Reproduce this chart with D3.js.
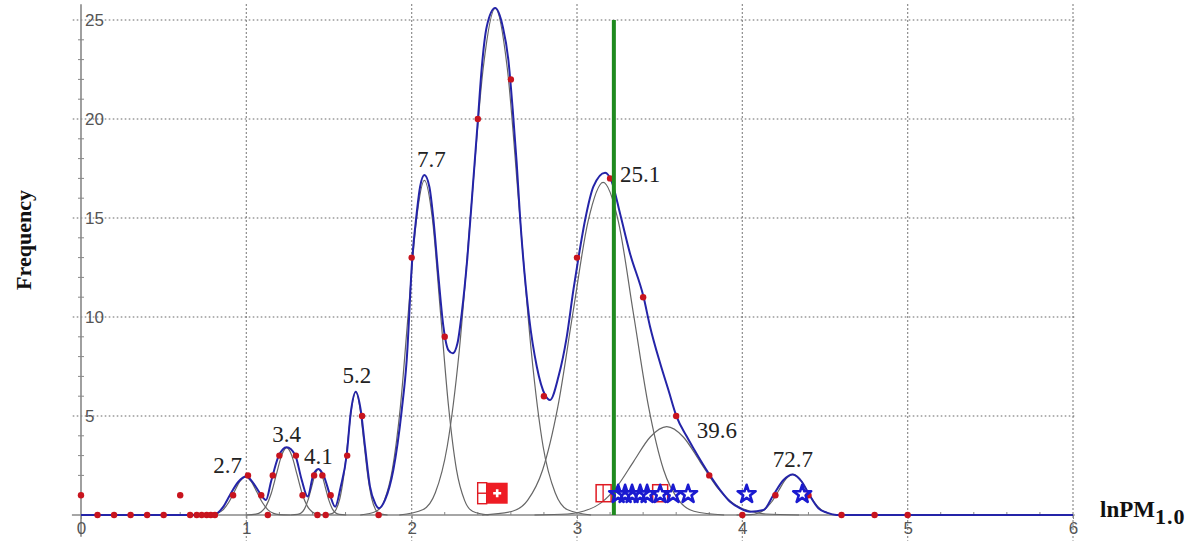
<!DOCTYPE html>
<html><head><meta charset="utf-8">
<script src="https://cdn.jsdelivr.net/npm/d3@7"></script>
<style>body{margin:0;background:#fff}svg{display:block}</style>
</head><body><svg id="c" width="1200" height="541"></svg>
<script>
// ---------------- DATA ----------------
const xTicks = [0, 1, 2, 3, 4, 5, 6];
const yTicks = [5, 10, 15, 20, 25];

// observed frequencies (red dots)
const obsX = [0,0.1,0.2,0.3,0.4,0.5,0.6,0.66,0.7,0.73,0.76,0.785,0.81,0.92,1.01,1.09,1.13,1.16,1.2,1.3,1.34,1.41,1.43,1.46,1.48,1.51,1.61,1.7,1.8,2.0,2.2,2.4,2.6,2.8,3.0,3.2,3.4,3.6,3.8,4.0,4.2,4.4,4.6,4.8,5.0];
const obsY = [1,0,0,0,0,0,1,0,0,0,0,0,0,1,2,1,0,2,3,3,1,2,0,2,0,1,3,5,0,13,9,20,22,6,13,17,11,5,2,0,1,1,0,0,0];

// fitted mixture curve (blue)
const fitX = [0,0.78,0.81,0.861,0.901,0.952,1.0,1.043,1.083,1.119,1.15,1.194,1.244,1.295,1.335,1.371,1.405,1.436,1.47,1.506,1.537,1.571,1.607,1.631,1.662,1.692,1.718,1.748,1.779,1.803,1.839,1.889,1.94,1.97,2.004,2.027,2.051,2.077,2.107,2.131,2.162,2.192,2.222,2.249,2.277,2.303,2.337,2.37,2.4,2.424,2.454,2.505,2.551,2.585,2.611,2.635,2.656,2.71,2.757,2.807,2.837,2.888,2.938,2.978,3.009,3.049,3.099,3.17,3.21,3.261,3.321,3.402,3.442,3.503,3.553,3.6,3.664,3.704,3.805,3.866,3.926,3.987,4.047,4.128,4.188,4.249,4.305,4.36,4.406,4.46,4.511,4.57,6.0];
const fitY = [0,0,0.03,0.42,1.01,1.68,1.94,1.6,1.09,0.76,1.7,2.95,3.42,3.03,1.77,0.93,2.02,2.32,1.94,1.01,0.42,1.43,3.03,5.13,6.23,5.3,3.45,1.43,0.59,0.34,0.76,2.27,5.3,7.83,13.0,14.98,16.58,17.17,16.58,14.98,12.04,9.51,8.33,8.17,8.67,10.2,13.0,16.6,19.9,22.6,24.66,25.6,24.66,22.98,20.5,17.8,15.0,10.0,7.49,6.06,5.81,6.99,9.0,11.36,13.0,14.9,16.58,17.29,16.84,15.2,13.2,11.03,9.51,7.66,6.31,5.02,3.96,3.37,1.99,1.26,0.67,0.34,0.17,0.25,1.01,1.77,2.05,1.68,1.01,0.34,0.12,0,0];

// individual components (grey)
const compX = [
  [0.723,0.791,0.825,0.859,0.893,0.927,0.961,0.995,1.029,1.063,1.097,1.131,1.165,1.199,1.267],
  [0.996,1.058,1.089,1.12,1.151,1.182,1.213,1.244,1.275,1.306,1.337,1.368,1.399,1.43,1.492],
  [1.268,1.31,1.331,1.352,1.373,1.394,1.415,1.436,1.457,1.478,1.499,1.52,1.541,1.562,1.604],
  [1.47,1.518,1.542,1.566,1.59,1.614,1.638,1.662,1.686,1.71,1.734,1.758,1.782,1.806,1.854],
  [1.689,1.786,1.835,1.883,1.932,1.98,2.029,2.077,2.126,2.174,2.223,2.271,2.32,2.368,2.465],
  [1.925,2.07,2.143,2.215,2.288,2.36,2.433,2.505,2.578,2.65,2.723,2.795,2.868,2.94,3.085],
  [2.426,2.609,2.701,2.792,2.884,2.975,3.067,3.158,3.25,3.341,3.433,3.524,3.616,3.707,3.89],
  [2.743,2.943,3.043,3.143,3.243,3.343,3.443,3.543,3.643,3.743,3.843,3.943,4.043,4.143,4.343],
  [3.965,4.05,4.093,4.135,4.178,4.22,4.263,4.305,4.348,4.39,4.433,4.475,4.518,4.56,4.645]
];
const compY = [
  [0,0.02,0.08,0.26,0.63,1.17,1.7,1.93,1.7,1.17,0.63,0.26,0.08,0.02,0],
  [0,0.04,0.15,0.46,1.1,2.06,3.0,3.4,3.0,2.06,1.1,0.46,0.15,0.04,0],
  [0,0.03,0.1,0.31,0.75,1.39,2.03,2.3,2.03,1.39,0.75,0.31,0.1,0.03,0],
  [0,0.07,0.27,0.84,2.01,3.76,5.47,6.2,5.47,3.76,2.01,0.84,0.27,0.07,0],
  [0,0.19,0.74,2.29,5.49,10.25,14.91,16.9,14.91,10.25,5.49,2.29,0.74,0.19,0],
  [0,0.28,1.12,3.46,8.31,15.53,22.59,25.6,22.59,15.53,8.31,3.46,1.12,0.28,0],
  [0,0.19,0.74,2.27,5.46,10.19,14.83,16.8,14.83,10.19,5.46,2.27,0.74,0.19,0],
  [0,0.05,0.2,0.6,1.45,2.71,3.94,4.46,3.94,2.71,1.45,0.6,0.2,0.05,0],
  [0,0.02,0.09,0.28,0.67,1.24,1.81,2.05,1.81,1.24,0.67,0.28,0.09,0.02,0]
];
const peakLabels = ["2.7","3.4","4.1","5.2","7.7","25.1","39.6","72.7"];
const peakLabelComp = [0,1,2,3,4,6,7,8];

const threshold = 3.223;           // green line (ln 25.1)
const markerLevel = 1.1;
const splitPlusX = [2.49];
const squareX = [3.161, 3.503];
const starX = [3.249,3.291,3.333,3.382,3.424,3.503,3.581,3.672,4.026,4.362];

// ---------------- LAYOUT ----------------
const labelDx = [-18, 0, 0, 1, 7, 37, 50, 0];
const labelDy = [-4, -6, -5, -9, -13, 0, 11, -7];

const x = d3.scaleLinear().domain([0, 6]).range([81, 1073]);
const y = d3.scaleLinear().domain([0, 25]).range([515, 20]);
const svg = d3.select('#c');

// grid
svg.append('g').selectAll('line').data(yTicks).join('line')
  .attr('x1', x(-0.05)).attr('x2', x(6.01))
  .attr('y1', d => y(d)).attr('y2', d => y(d))
  .attr('stroke', '#666').attr('stroke-width', 1.2).attr('stroke-dasharray', '1.6,2.4');
svg.append('g').selectAll('line').data(xTicks.slice(1)).join('line')
  .attr('x1', d => x(d)).attr('x2', d => x(d))
  .attr('y1', y(25.8)).attr('y2', y(-1.3))
  .attr('stroke', '#666').attr('stroke-width', 1.2).attr('stroke-dasharray', '1.6,2.4');

// axes lines
svg.append('line').attr('x1', x(-0.055)).attr('x2', x(6.01)).attr('y1', y(0)).attr('y2', y(0))
  .attr('stroke', '#888').attr('stroke-width', 1.6);
svg.append('line').attr('x1', x(0)).attr('x2', x(0)).attr('y1', y(25.8)).attr('y2', y(-1.1))
  .attr('stroke', '#888').attr('stroke-width', 1.6);

// minor ticks
const yMinor = d3.range(1, 26).filter(v => v % 5 !== 0);
svg.append('g').selectAll('line').data(yMinor).join('line')
  .attr('x1', x(0) - 3).attr('x2', x(0) + 3).attr('y1', d => y(d)).attr('y2', d => y(d))
  .attr('stroke', '#888').attr('stroke-width', 1);
const xMinor = d3.range(0.2, 6, 0.2).filter(v => Math.abs(v - Math.round(v)) > 0.01);
svg.append('g').selectAll('line').data(xMinor).join('line')
  .attr('x1', d => x(d)).attr('x2', d => x(d)).attr('y1', y(0)).attr('y2', y(0) - 3)
  .attr('stroke', '#888').attr('stroke-width', 1);

// tick labels via d3 axes
const xa = svg.append('g').attr('transform', `translate(0,${y(0)})`)
  .call(d3.axisBottom(x).tickValues(xTicks).tickSize(4).tickPadding(3).tickFormat(d3.format('d')));
xa.select('.domain').remove();
xa.selectAll('line').attr('stroke', '#888');
xa.selectAll('text').attr('fill', '#555').style('font', '17px "Liberation Sans", Arial, sans-serif');

const ya = svg.append('g').attr('transform', `translate(${x(0)},0)`)
  .call(d3.axisRight(y).tickValues(yTicks).tickSize(0).tickPadding(4));
ya.select('.domain').remove();
ya.selectAll('text').attr('fill', '#555').style('font', '17px "Liberation Sans", Arial, sans-serif');

// components
const line = d3.line().x(d => x(d[0])).y(d => y(d[1])).curve(d3.curveMonotoneX);
svg.append('g').selectAll('path').data(compX.map((xs, i) => xs.map((v, j) => [v, compY[i][j]])))
  .join('path').attr('d', line).attr('fill', 'none').attr('stroke', '#666').attr('stroke-width', 1.2);

// fitted curve
svg.append('path').datum(fitX.map((v, i) => [v, fitY[i]])).attr('d', line)
  .attr('fill', 'none').attr('stroke', '#2424a8').attr('stroke-width', 2);

// observed dots
svg.append('g').selectAll('circle').data(obsX.map((v, i) => [v, obsY[i]])).join('circle')
  .attr('cx', d => x(d[0])).attr('cy', d => y(d[1])).attr('r', 3.2).attr('fill', '#c8141e');

// threshold
svg.append('line').attr('x1', x(threshold)).attr('x2', x(threshold)).attr('y1', y(25)).attr('y2', y(0))
  .attr('stroke', '#1f8a1f').attr('stroke-width', 4);

// markers
const my = y(markerLevel);
const sp = svg.append('g').selectAll('g').data(splitPlusX).join('g')
  .attr('transform', d => `translate(${x(d)},${my})`);
sp.append('rect').attr('x', -15).attr('y', -10.5).attr('width', 9).attr('height', 21)
  .attr('fill', '#fff').attr('stroke', '#e01a22').attr('stroke-width', 1.4);
sp.append('line').attr('x1', -15).attr('x2', -6).attr('y1', 0).attr('y2', 0).attr('stroke', '#e01a22').attr('stroke-width', 1.4);
sp.append('rect').attr('x', -6).attr('y', -10.5).attr('width', 21).attr('height', 21).attr('fill', '#ee1c24');
sp.append('path').attr('d', 'M0.5,0H8.5M4.5,-4V4').attr('stroke', '#fff').attr('stroke-width', 2.6);

const sq = svg.append('g').selectAll('g').data(squareX).join('g')
  .attr('transform', d => `translate(${x(d)},${my})`);
sq.append('rect').attr('x', -7.5).attr('y', -8.5).attr('width', 15).attr('height', 17)
  .attr('fill', 'none').attr('stroke', '#e01a22').attr('stroke-width', 1.5);
sq.filter((d, i) => i === 0).append('line').attr('x1', -0.5).attr('x2', -0.5).attr('y1', -8.5).attr('y2', 8.5)
  .attr('stroke', '#e01a22').attr('stroke-width', 1.3);

const star = d3.symbol().type(d3.symbolStar).size(100);
svg.append('g').selectAll('path').data(starX).join('path')
  .attr('transform', d => `translate(${x(d)},${my + 1})`).attr('d', star)
  .attr('fill', 'none').attr('stroke', '#1a1ad0').attr('stroke-width', 2.6).attr('stroke-linejoin', 'round');

// peak labels
svg.append('g').selectAll('text').data(peakLabels).join('text')
  .attr('x', (d, i) => x(compX[peakLabelComp[i]][7]) + labelDx[i])
  .attr('y', (d, i) => y(compY[peakLabelComp[i]][7]) + labelDy[i])
  .attr('text-anchor', 'middle').attr('fill', '#222')
  .style('font', '23px "Liberation Serif", "Times New Roman", serif')
  .text(d => d);

// axis titles
svg.append('text').attr('transform', 'translate(31,240) rotate(-90)').attr('text-anchor', 'middle')
  .style('font', 'bold 22px "Liberation Serif", "Times New Roman", serif').attr('fill', '#111').text('Frequency');
const t = svg.append('text').attr('x', 1100).attr('y', 517)
  .style('font', 'bold 23px "Liberation Serif", "Times New Roman", serif').attr('fill', '#111');
t.append('tspan').text('lnPM');
t.append('tspan').attr('dy', 7).style('font-size', '22px').attr('letter-spacing', '1').text('1.0');
</script></body></html>
